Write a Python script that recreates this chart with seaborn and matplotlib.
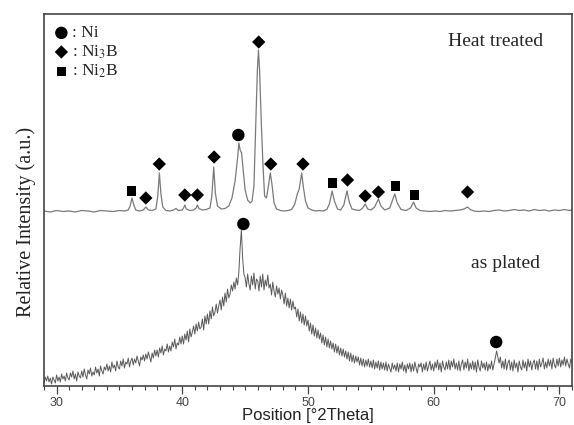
import matplotlib
matplotlib.use("Agg")
import matplotlib.pyplot as plt
from matplotlib.ticker import MultipleLocator
import numpy as np
import pandas as pd
import seaborn as sns

# ---------------- data ----------------
# heat treated trace: vertices (2theta, intensity a.u.)
HT_X = [29.0, 29.5, 30.0, 30.5, 31.0, 31.5, 32.0, 32.5, 33.0, 33.5, 34.0, 34.5, 35.0, 35.4, 35.7,
        35.85, 36.0, 36.12, 36.3, 36.6,
        36.9, 37.1, 37.3, 37.6,
        37.9, 38.05, 38.18, 38.3, 38.45, 38.7, 39.0, 39.3, 39.5, 39.7, 40.0,
        40.1, 40.2, 40.32, 40.6, 40.9, 41.1, 41.2, 41.32, 41.6, 41.9, 42.2,
        42.35, 42.5, 42.63, 42.8, 43.1, 43.4, 43.7,
        43.95, 44.2, 44.4, 44.5, 44.6, 44.72, 44.85, 45.0, 45.2, 45.4,
        45.55, 45.7, 45.85, 45.97, 46.06, 46.15, 46.29, 46.42, 46.55, 46.7, 46.85, 47.0, 47.12, 47.3,
        47.5, 47.8, 48.1, 48.4, 48.7,
        48.95, 49.15, 49.3, 49.5, 49.62, 49.8, 50.0, 50.3, 50.6, 50.9, 51.2, 51.5,
        51.7, 51.92, 52.1, 52.35, 52.6, 52.85,
        53.1, 53.28, 53.5, 53.8, 54.1, 54.35, 54.55, 54.75, 55.0, 55.3,
        55.6, 55.8, 56.1, 56.5, 56.7, 56.9, 57.1, 57.4, 57.8, 58.15, 58.4, 58.6, 58.9,
        59.3, 59.7, 60.1, 60.5, 60.9, 61.3, 61.7, 62.1, 62.4, 62.7, 62.9, 63.2, 63.6,
        64.0, 64.4, 64.8, 65.2, 65.6, 66.0, 66.4, 66.8, 67.2, 67.6, 68.0, 68.4, 68.8,
        69.2, 69.6, 70.0, 70.4, 70.8, 71.0]
HT_Y = [175, 174, 175.5, 174.5, 175, 174, 175.5, 175, 174, 175.5, 175, 174.5, 175.5, 175, 176,
        180, 188, 182, 176, 175,
        176, 179, 176, 175.5,
        177, 190, 213, 192, 179, 175.5, 175, 176, 177.5, 175.5, 176,
        178, 181, 177, 175.5, 176, 178, 181, 177.5, 176, 176.5, 178,
        190, 219, 193, 180, 177, 177.5, 180,
        188, 205, 228, 243, 236, 233, 215, 196, 186, 183,
        185, 200, 262, 315, 336, 315, 262, 220, 190, 188, 200, 213, 203, 183,
        177, 175.5, 175, 175.5, 176.5,
        182, 192, 197, 213, 200, 185, 178, 176, 175, 175.5, 175, 176.5,
        182, 195, 185, 177, 176, 181,
        195, 184, 177, 176, 175.5, 178, 182, 177, 176, 179,
        187, 180, 176, 178, 185, 192, 183, 176.5, 175.5, 178, 184, 178, 175.5,
        175, 174.5, 175, 174.5, 175.5, 175, 175.5, 176, 177, 179, 176.5, 175, 174.5,
        175, 174.5, 175.5, 176, 175, 175.5, 176.5, 175.5, 176, 175, 176.5, 175.5, 176,
        175, 176, 175.5, 176.5, 175.5, 176]

# as plated trace: scan from 29.0 deg in 0.1 deg steps (one row per degree)
AP_START = 29.0
AP_STEP = 0.1
AP_Y = [
    3, 9, 5, 10, 4, 8, 2, 9, 6, 3,            # 29
    11, 5, 9, 4, 12, 7, 10, 5, 13, 8,         # 30
    6, 13, 9, 15, 7, 12, 5, 14, 10, 8,        # 31
    15, 9, 17, 11, 7, 16, 12, 18, 10, 14,     # 32
    11, 19, 13, 17, 10, 20, 15, 12, 19, 16,   # 33
    22, 15, 20, 14, 24, 18, 21, 15, 25, 19,   # 34
    17, 25, 20, 27, 18, 24, 22, 28, 19, 25,   # 35
    28, 21, 27, 23, 30, 25, 20, 29, 26, 31,   # 36
    25, 32, 27, 34, 29, 24, 33, 28, 36, 30,   # 37
    36, 29, 38, 33, 40, 31, 37, 35, 42, 34,   # 38
    40, 35, 44, 39, 47, 37, 43, 41, 49, 42,   # 39
    50, 42, 52, 46, 55, 44, 57, 49, 54, 60,   # 40
    52, 62, 55, 64, 57, 59, 67, 56, 70, 62,   # 41
    72, 62, 75, 67, 79, 70, 74, 82, 73, 80,   # 42
    86, 76, 89, 80, 93, 84, 97, 88, 92, 101,  # 43
    95, 104, 97, 108, 101, 114, 138, 156, 128, 112,  # 44
    108, 99, 112, 102, 96, 110, 101, 113, 97, 107,   # 45
    105, 95, 110, 99, 112, 96, 106, 100, 111, 98,    # 46
    102, 91, 104, 95, 89, 100, 92, 98, 87, 96,  # 47
    91, 82, 93, 80, 88, 78, 87, 76, 85, 77,     # 48
    79, 69, 77, 65, 74, 63, 72, 61, 70, 60,     # 49
    66, 55, 63, 52, 61, 50, 58, 48, 56, 47,     # 50
    53, 43, 51, 41, 49, 39, 47, 38, 45, 37,     # 51
    43, 34, 42, 33, 40, 31, 38, 30, 37, 29,     # 52
    35, 27, 34, 25, 33, 24, 31, 23, 30, 24,     # 53
    29, 21, 28, 20, 27, 19, 26, 20, 27, 19,     # 54
    25, 18, 26, 17, 24, 18, 25, 16, 24, 17,     # 55
    23, 16, 24, 15, 22, 18, 14, 23, 17, 21,     # 56
    15, 23, 14, 22, 17, 24, 15, 21, 13, 22,     # 57
    17, 23, 14, 22, 15, 24, 18, 13, 22, 19,     # 58
    23, 14, 22, 16, 24, 15, 20, 25, 16, 22,     # 59
    15, 24, 18, 26, 16, 23, 14, 25, 19, 16,     # 60
    24, 17, 26, 16, 25, 19, 27, 17, 23, 16,     # 61
    25, 15, 22, 26, 16, 24, 18, 27, 15, 23,     # 62
    17, 25, 16, 24, 14, 26, 19, 15, 25, 18,     # 63
    23, 16, 24, 15, 22, 17, 25, 16, 22, 28,     # 64
    35, 29, 23, 29, 18, 25, 17, 27, 16, 23,     # 65
    26, 16, 24, 15, 26, 18, 23, 14, 25, 19,     # 66
    16, 26, 18, 24, 15, 27, 19, 25, 16, 23,     # 67
    26, 17, 25, 16, 27, 19, 23, 28, 17, 24,     # 68
    18, 27, 20, 26, 17, 28, 21, 18, 27, 20,     # 69
    28, 19, 26, 21, 29, 20, 27, 22, 18, 27,     # 70
    23]                                          # 71
AP_X = [round(AP_START + AP_STEP * i, 1) for i in range(len(AP_Y))]

# phase markers (2theta, intensity)
NI_X = [44.46, 44.86, 64.97]
NI_Y = [251, 162, 44]
NI3B_X = [37.1, 38.17, 40.2, 41.2, 42.53, 46.08, 47.04, 49.6, 53.14, 54.55, 55.6, 62.69]
NI3B_Y = [188, 222, 191, 191, 229, 344, 222, 222, 206, 190, 194, 194]
NI2B_X = [35.95, 51.95, 56.93, 58.45]
NI2B_Y = [195, 203, 200, 191]

PHASE_LABELS = [": Ni", ": Ni$_3$B", ": Ni$_2$B"]
SAMPLE_LABELS = ["Heat treated", "as plated"]
X_TICKS = [30, 40, 50, 60, 70]
X_LABEL = "Position [°2Theta]"
Y_LABEL = "Relative Intensity (a.u.)"

# ---------------- plot ----------------
sns.set_theme(style="white")
plt.rcParams["font.family"] = ["Liberation Serif", "DejaVu Serif"]
plt.rcParams["mathtext.fontset"] = "stix"

fig = plt.figure(figsize=(5.74, 4.25), dpi=100)
ax = fig.add_axes([44 / 574, 39 / 425, 528 / 574, 372 / 425])

ap = pd.DataFrame({"x": AP_X, "y": AP_Y})
ht = pd.DataFrame({"x": HT_X, "y": HT_Y})
sns.lineplot(data=ap, x="x", y="y", ax=ax, color="#5a5a5a", linewidth=0.7,
             estimator=None, sort=False)
sns.lineplot(data=ht, x="x", y="y", ax=ax, color="#7a7a7a", linewidth=0.9,
             estimator=None, sort=False)

sns.scatterplot(x=NI_X, y=NI_Y, ax=ax, marker="o", s=80, color="black",
                edgecolor="none", label=PHASE_LABELS[0], zorder=5)
sns.scatterplot(x=NI3B_X, y=NI3B_Y, ax=ax, marker="D", s=46, color="black",
                edgecolor="none", label=PHASE_LABELS[1], zorder=5)
sns.scatterplot(x=NI2B_X, y=NI2B_Y, ax=ax, marker="s", s=42, color="black",
                edgecolor="none", label=PHASE_LABELS[2], zorder=5)

leg = ax.legend(loc="upper left", bbox_to_anchor=(0.0, 1.0), frameon=False,
                fontsize=12.5, handlelength=0.7, handletextpad=0.25,
                labelspacing=0.12, borderaxespad=0.35, borderpad=0.3)

ax.text(64.9, 345, SAMPLE_LABELS[0], fontsize=14, ha="center", va="center")
ax.text(65.7, 123, SAMPLE_LABELS[1], fontsize=14, ha="center", va="center")

ax.set_xlim(29, 71)
ax.set_ylim(0, 372)
ax.set_xticks(X_TICKS)
ax.xaxis.set_minor_locator(MultipleLocator(1))
ax.set_yticks([])
ax.tick_params(axis="x", which="major", bottom=True, direction="out", length=6,
               width=0.9, color="#444444", labelsize=9, labelcolor="#444444",
               labelfontfamily="Liberation Sans", pad=2)
ax.tick_params(axis="x", which="minor", bottom=True, direction="out", length=3,
               width=0.8, color="#444444")
for sp in ax.spines.values():
    sp.set_color("#444444")
    sp.set_linewidth(1.2)

ax.set_xlabel(X_LABEL, fontfamily="Liberation Sans", fontsize=12, color="#222222",
              labelpad=-1)
ax.set_ylabel(Y_LABEL, fontsize=14.5, color="#222222")
ax.yaxis.set_label_coords(-0.015, 0.44)

fig.savefig("out.png", dpi=100)
